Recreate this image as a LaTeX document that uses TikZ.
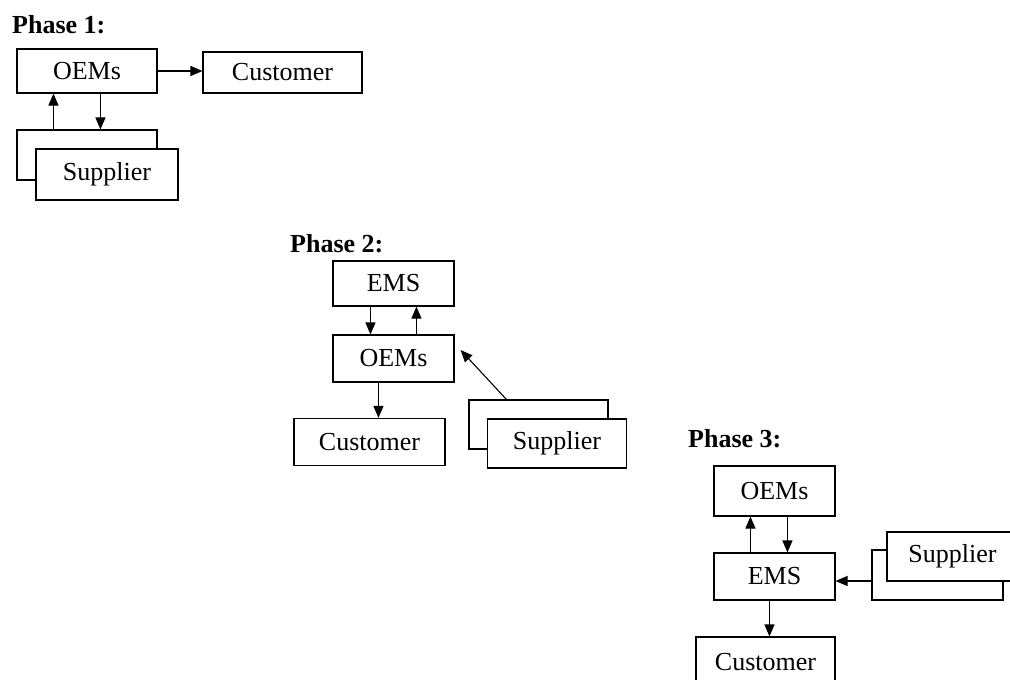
\documentclass[tikz,border=0pt]{standalone}
\usepackage{fontspec}
\setmainfont{Liberation Serif}
\usetikzlibrary{arrows.meta}
\begin{document}
\begin{tikzpicture}[x=1pt,y=-1pt,
  box/.style={draw, line width=1.1pt, fill=white, inner sep=0pt,
    font=\fontsize{26}{30}\selectfont},
  arr/.style={line width=1.1pt, -{Triangle[length=12pt,width=10pt]}},
  phase/.style={anchor=base west, inner sep=0pt,
    font=\fontsize{26}{30}\selectfont\bfseries}]
\useasboundingbox (0,0) rectangle (1010,680);
\clip (0,0) rectangle (1010,680);

% ---------- Phase 1 ----------
\node[phase] (ph1) at (12,33) {Phase 1:};
\node[box, minimum width=140pt, minimum height=44pt] (oem1) at (87,71) {OEMs};
\node[box, minimum width=159pt, minimum height=41pt] (cus1) at (282.5,72.5) {Customer};
\node[box, minimum width=140pt, minimum height=50pt] (sup1b) at (87,155) {};
\node[box, minimum width=142pt, minimum height=51pt] (sup1) at (107,174.5) {Supplier};
\draw[arr] (oem1.east) -- (oem1.east -| cus1.west);
\draw[arr] ([xshift=37pt]sup1b.north west) -- ([xshift=37pt]sup1b.north west |- oem1.south);
\draw[arr] ([xshift=84pt]oem1.south west) -- ([xshift=84pt]oem1.south west |- sup1b.north);

% ---------- Phase 2 ----------
\node[phase] (ph2) at (290,252) {Phase 2:};
\node[box, minimum width=121pt, minimum height=45pt] (ems2) at (393.5,283.5) {EMS};
\node[box, minimum width=121pt, minimum height=47pt] (oem2) at (393.5,358.5) {OEMs};
\node[box, minimum width=151pt, minimum height=47pt] (cus2) at (369.5,442) {Customer};
\node[box, minimum width=139pt, minimum height=49pt] (sup2b) at (538.5,424.5) {};
\node[box, minimum width=139pt, minimum height=49pt] (sup2) at (557,443.5) {Supplier};
\draw[arr] ([xshift=38pt]ems2.south west) -- ([xshift=38pt]ems2.south west |- oem2.north);
\draw[arr] ([xshift=84pt]oem2.north west) -- ([xshift=84pt]oem2.north west |- ems2.south);
\draw[arr] ([xshift=46pt]oem2.south west) -- ([xshift=46pt]oem2.south west |- cus2.north);
\draw[arr] ([xshift=38pt]sup2b.north west) -- ([shift={(6pt,8.5pt)}]oem2.east);

% ---------- Phase 3 ----------
\node[phase] (ph3) at (688,447) {Phase 3:};
\node[box, minimum width=121pt, minimum height=50pt] (oem3) at (774.5,491) {OEMs};
\node[box, minimum width=121pt, minimum height=47pt] (ems3) at (774.5,576.5) {EMS};
\node[box, minimum width=131pt, minimum height=50pt] (sup3b) at (937.5,575) {};
\node[box, minimum width=131pt, minimum height=49pt] (sup3) at (952.5,556.5) {Supplier};
\node[box, minimum width=139pt, minimum height=50pt] (cus3) at (765.5,662) {Customer};
\draw[arr] ([xshift=37pt]ems3.north west) -- ([xshift=37pt]ems3.north west |- oem3.south);
\draw[arr] ([xshift=74pt]oem3.south west) -- ([xshift=74pt]oem3.south west |- ems3.north);
\draw[arr] ([xshift=56pt]ems3.south west) -- ([xshift=56pt]ems3.south west |- cus3.north);
\draw[arr] ([yshift=-6pt]sup3b.west) -- ([yshift=-6pt]sup3b.west -| ems3.east);
\end{tikzpicture}
\end{document}
